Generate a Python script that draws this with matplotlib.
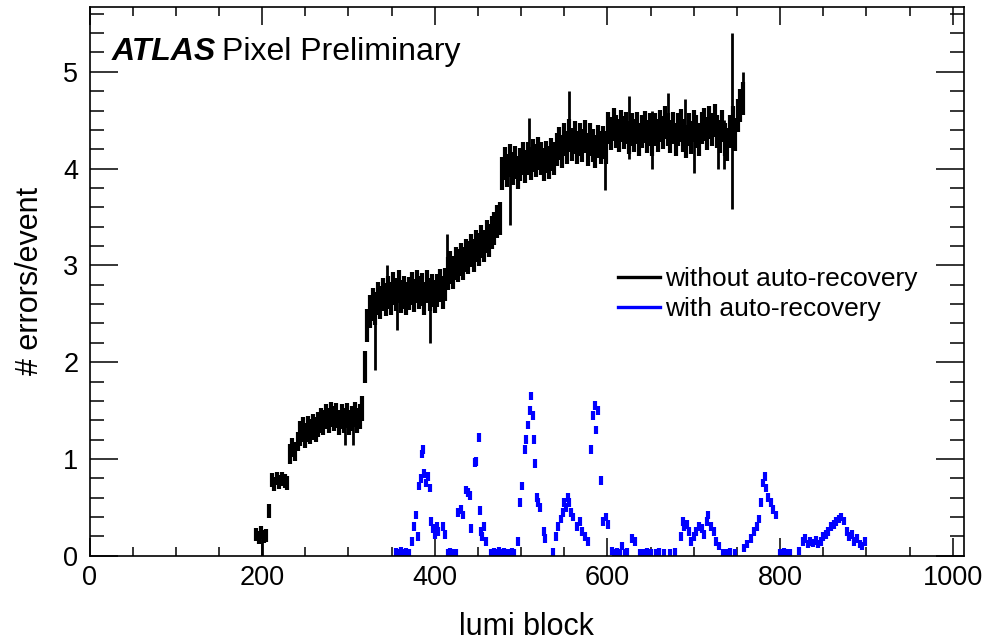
import numpy as np
import matplotlib
matplotlib.use("Agg")
import matplotlib.pyplot as plt
from matplotlib.lines import Line2D
from matplotlib.ticker import MultipleLocator

plt.rcParams['font.family'] = ['Liberation Sans', 'DejaVu Sans']

# ---------------- data ----------------
# black: without auto-recovery, one bin every 3 lumi blocks starting at 190 (nan = empty)
black_start = 190
black_step = 3
black_val = [
    np.nan, 0.22, 0.19, 0.24, 0.20, 0.21,                     # 190-205
    0.46, 0.78, 0.74, 0.80, 0.76, 0.79, 0.77, 0.75,           # 208-229
    1.05, 1.12, 1.08, 1.18,                                   # 232-241
    1.26, 1.30, 1.24, 1.31, 1.28, 1.33, 1.30, 1.36, 1.40,     # 244-268
    1.38, 1.44, 1.40, 1.46, 1.42, 1.45, 1.38, 1.44, 1.40,     # 271-295
    1.45, 1.38, 1.42, 1.46, 1.40, 1.44, 1.52,                 # 298-316
    1.95, 2.38, 2.52, 2.60, 2.55, 2.66, 2.62, 2.70, 2.65,     # 319-343
    2.72, 2.66, 2.76, 2.70, 2.78, 2.68, 2.72, 2.66, 2.71,     # 346-370
    2.76, 2.69, 2.78, 2.72, 2.75, 2.66, 2.78, 2.70, 2.74,     # 373-397
    2.68, 2.74, 2.79, 2.72, 2.80,                             # 400-412
    2.92, 2.98, 2.93, 3.02, 3.00, 3.06, 3.02, 3.10, 3.08,     # 415-439
    3.15, 3.10, 3.20, 3.16, 3.25, 3.20, 3.30, 3.26, 3.34,     # 442-466
    3.38, 3.45, 3.48,                                         # 469-475
    3.95, 4.05, 3.98, 4.08, 4.00, 4.06, 3.96, 4.04, 4.10,     # 478-502
    4.02, 4.10, 4.05, 4.14, 4.08, 4.16, 4.10, 4.04, 4.12,     # 505-529
    4.06, 4.15, 4.10, 4.20,                                   # 532-541
    4.26, 4.18, 4.30, 4.22, 4.34, 4.25, 4.32, 4.22, 4.30,     # 544-568
    4.24, 4.33, 4.20, 4.30, 4.24, 4.18, 4.28, 4.22, 4.27,     # 571-595
    4.22,                                                     # 598
    4.42, 4.36, 4.46, 4.38, 4.34, 4.44, 4.37, 4.42, 4.32,     # 601-625
    4.40, 4.34, 4.42, 4.30, 4.38, 4.43, 4.33, 4.40, 4.30,     # 628-652
    4.40, 4.34, 4.44, 4.37, 4.48, 4.40, 4.33, 4.42, 4.30,     # 655-679
    4.40, 4.45, 4.34, 4.28, 4.40, 4.32, 4.44, 4.38, 4.30,     # 682-706
    4.42, 4.46, 4.36, 4.48, 4.40, 4.50, 4.38, 4.33, 4.44,     # 709-733
    4.30, 4.25, 4.38, 4.48, 4.35, 4.55, 4.65, 4.72,           # 736-757
]
# error half-size of the black bins, by lumi-block range (range start, error)
black_err_from = [190, 232, 244, 319]
black_err_size = [0.07, 0.10, 0.13, 0.17]

# long error bars (low-statistics bins) of the black series
spike_lb = [200, 296, 305, 331, 345, 356, 394, 414, 487, 509, 555, 597,
            625, 652, 670, 690, 700, 728, 735, 744, 757]
spike_lo = [0.00, 1.14, 1.14, 1.92, 2.60, 2.33, 2.20, 2.80, 3.42, 4.10, 4.30, 3.78,
            4.10, 4.00, 4.40, 4.30, 3.95, 4.00, 4.00, 3.58, 4.60]
spike_hi = [0.20, 1.50, 1.50, 2.60, 3.00, 2.80, 2.70, 3.32, 4.00, 4.52, 4.80, 4.25,
            4.75, 4.60, 4.78, 4.72, 4.40, 4.50, 4.50, 5.40, 5.00]

# blue: with auto-recovery
blue_lb = [355, 358, 361, 364, 367, 370,
           374, 376, 378, 380, 382, 384, 385, 386, 388, 390, 392, 394,
           396, 398, 400, 402, 404, 410, 412,
           415, 418, 421, 424, 427, 430, 433, 436, 439, 441, 442,
           446, 448, 451, 452, 453, 455, 457, 459,
           465, 468, 471, 474, 477, 480, 483, 486, 489, 492,
           496, 499, 501, 504, 506, 508, 510, 512, 514, 515, 516,
           518, 520, 522, 526, 528, 537,
           540, 543, 546, 548, 550, 552, 554, 556, 558, 560,
           565, 568, 571, 574, 577, 581, 583, 585, 587, 589, 593,
           595, 598, 601, 605, 608, 611, 614, 617, 620, 623, 628, 632,
           638, 642, 646, 650, 656, 660, 666, 672, 678,
           685, 687, 689, 692, 695, 697, 700, 703, 706, 709, 712, 715,
           717, 720, 723, 726, 729, 734, 738, 742, 748,
           758, 762, 766, 770, 773, 776, 778, 780, 782, 784, 786, 789,
           792, 795, 800, 804, 808, 812,
           822, 826, 829, 832, 835, 838, 841, 844, 847, 850, 853, 856,
           859, 862, 865, 868, 871, 874, 877, 880, 883, 886, 889, 892,
           895, 898]
blue_val = [0.03, 0.02, 0.04, 0.02, 0.03, 0.02,
            0.15, 0.30, 0.42, 0.20, 0.72, 0.80, 1.05, 1.10, 0.85, 0.75, 0.82, 0.70,
            0.35, 0.28, 0.22, 0.30, 0.25, 0.30, 0.22,
            0.02, 0.03, 0.02, 0.02, 0.45, 0.48, 0.42, 0.68, 0.65, 0.62, 0.28,
            0.96, 0.97, 1.22, 0.47, 0.25, 0.20, 0.30, 0.15,
            0.02, 0.03, 0.02, 0.04, 0.02, 0.03, 0.02, 0.02, 0.03, 0.02,
            0.15, 0.55, 0.72, 1.10, 1.20, 1.35, 1.50, 1.65, 1.45, 1.20, 0.95,
            0.60, 0.55, 0.50, 0.25, 0.18, 0.03,
            0.20, 0.30, 0.38, 0.45, 0.55, 0.50, 0.60, 0.55, 0.45, 0.40,
            0.30, 0.35, 0.25, 0.20, 0.15, 1.10, 1.45, 1.55, 1.30, 1.50, 0.78,
            0.35, 0.40, 0.32, 0.05, 0.02, 0.03, 0.02, 0.10, 0.02, 0.03, 0.18, 0.15,
            0.02, 0.02, 0.03, 0.02, 0.02, 0.03, 0.02, 0.02, 0.03,
            0.20, 0.35, 0.30, 0.32, 0.25, 0.15, 0.20, 0.25, 0.30, 0.28, 0.22, 0.35,
            0.42, 0.30, 0.25, 0.15, 0.10, 0.02, 0.02, 0.03, 0.02,
            0.08, 0.12, 0.18, 0.25, 0.30, 0.38, 0.55, 0.75, 0.82, 0.70, 0.60, 0.55,
            0.48, 0.42, 0.02, 0.03, 0.02, 0.02,
            0.05, 0.15, 0.18, 0.12, 0.15, 0.13, 0.16, 0.12, 0.15, 0.20, 0.22, 0.25,
            0.30, 0.32, 0.35, 0.38, 0.40, 0.36, 0.25, 0.20, 0.22, 0.15, 0.18, 0.12,
            0.10, 0.15]
blue_err = 0.045

x_label = "lumi block"
y_label = "# errors/event"
legend_labels = ["without auto-recovery", "with auto-recovery"]

# ---------------- plot ----------------
fig = plt.figure(figsize=(9.89, 6.41), dpi=100)
ax = fig.add_axes([89.5 / 989, 1 - 555.7 / 641, (964 - 89.5) / 989, (555.7 - 7) / 641])

bv = np.array(black_val, dtype=float)
bx = black_start + black_step * np.arange(len(bv))
be = np.array(black_err_size)[np.searchsorted(black_err_from, bx, side='right') - 1]
ok = ~np.isnan(bv)
ax.vlines(bx[ok], bv[ok] - be[ok], bv[ok] + be[ok], color='black', lw=3.0)
ax.vlines(spike_lb, spike_lo, spike_hi, color='black', lw=2.0)

bl = np.array(blue_val)
ax.vlines(blue_lb, np.clip(bl - blue_err, 0, None), bl + blue_err, color='#0000ff', lw=3.0)

ax.set_xlim(0, 1013)
ax.set_ylim(0, 5.67)
ax.xaxis.set_major_locator(MultipleLocator(200))
ax.xaxis.set_minor_locator(MultipleLocator(50))
ax.yaxis.set_major_locator(MultipleLocator(1))
ax.yaxis.set_minor_locator(MultipleLocator(0.2))
ax.xaxis.set_tick_params(which='major', direction='in', length=13, width=1.1, top=True, labelsize=19.5, pad=7)
ax.xaxis.set_tick_params(which='minor', direction='in', length=6.5, width=1.1, top=True)
ax.yaxis.set_tick_params(which='major', direction='in', length=20, width=1.1, right=True, labelsize=19.5, pad=8)
ax.yaxis.set_tick_params(which='minor', direction='in', length=10, width=1.1, right=True)
for s in ax.spines.values():
    s.set_linewidth(1.2)

ax.set_xlabel(x_label, fontsize=22, labelpad=15)
ax.set_ylabel(y_label, fontsize=22, labelpad=13)

ax.text(0.025, 0.903, "ATLAS", transform=ax.transAxes, fontsize=23,
        fontweight='bold', fontstyle='italic', va='baseline', ha='left')
ax.text(0.151, 0.903, "Pixel Preliminary", transform=ax.transAxes, fontsize=23,
        va='baseline', ha='left')

handles = [Line2D([], [], color='black', lw=2.4), Line2D([], [], color='#0000ff', lw=2.4)]
ax.legend(handles, legend_labels, loc='upper left', bbox_to_anchor=(0.604, 0.526),
          frameon=False, fontsize=19, handlelength=1.6, handletextpad=0.2,
          labelspacing=0.23, borderpad=0, borderaxespad=0)

fig.savefig("out.png", dpi=100)
